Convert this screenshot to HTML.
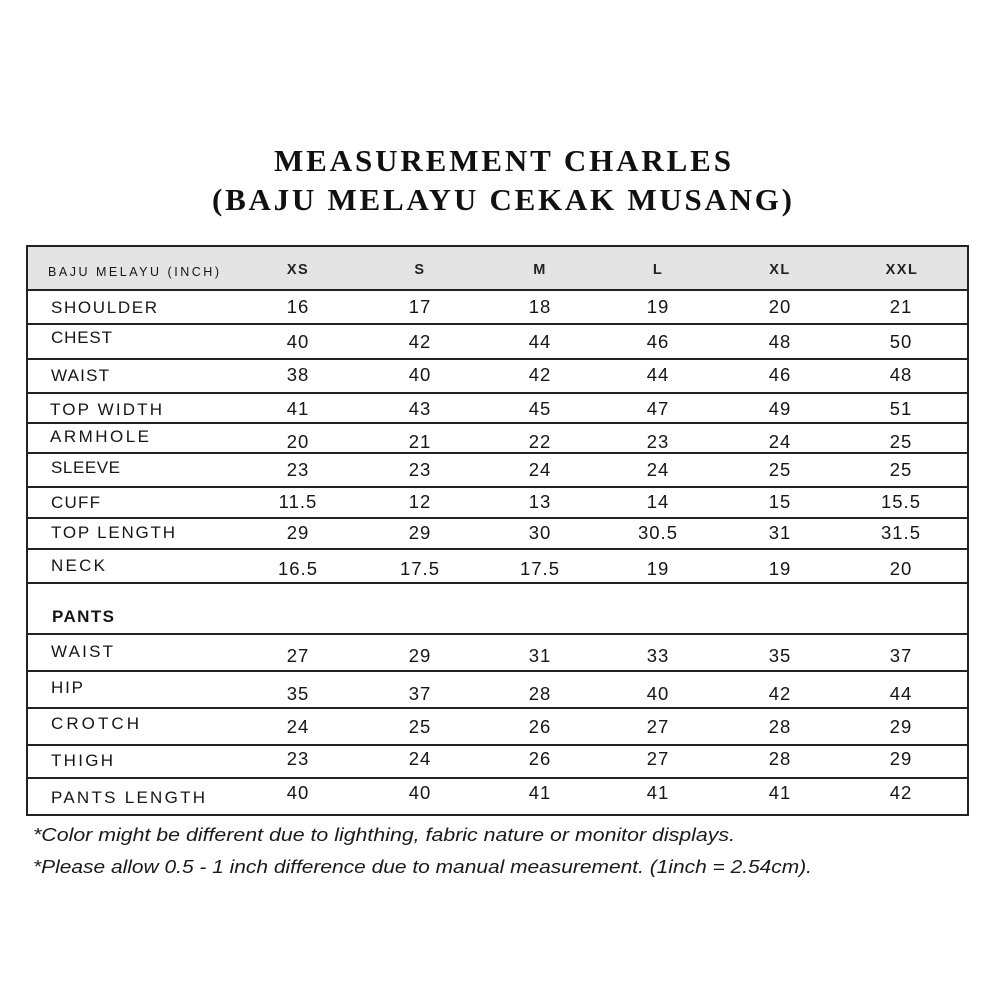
<!DOCTYPE html>
<html><head><meta charset="utf-8"><style>
html,body{margin:0;padding:0;background:#fff;}
svg{display:block;}
.t{font-family:"Liberation Serif",serif;font-weight:bold;font-size:31px;fill:#111;}
.lb{font-family:"Liberation Sans",sans-serif;font-size:17px;fill:#161616;}
.v{font-family:"Liberation Sans",sans-serif;font-size:18.5px;fill:#161616;letter-spacing:1px;}
.h{font-family:"Liberation Sans",sans-serif;font-size:14.5px;font-weight:bold;fill:#222;letter-spacing:1.5px;}
.fn{font-family:"Liberation Sans",sans-serif;font-style:italic;font-size:18px;fill:#1a1a1a;}
</style></head><body>
<svg width="1000" height="1000" viewBox="0 0 1000 1000" xmlns="http://www.w3.org/2000/svg">
<rect x="0" y="0" width="1000" height="1000" fill="#fff"/>
<text class="t" x="274" y="171" textLength="457" lengthAdjust="spacing">MEASUREMENT CHARLES</text>
<text class="t" x="212" y="210" textLength="580" lengthAdjust="spacing">(BAJU MELAYU CEKAK MUSANG)</text>

<rect x="27" y="246" width="941" height="43" fill="#e4e4e4"/>
<g stroke="#222" stroke-width="2" fill="none">
<rect x="27" y="246" width="941" height="569"/>
<line x1="27" y1="290" x2="968" y2="290"/>
<line x1="27" y1="324" x2="968" y2="324"/>
<line x1="27" y1="359" x2="968" y2="359"/>
<line x1="27" y1="393" x2="968" y2="393"/>
<line x1="27" y1="423" x2="968" y2="423"/>
<line x1="27" y1="453" x2="968" y2="453"/>
<line x1="27" y1="487" x2="968" y2="487"/>
<line x1="27" y1="518" x2="968" y2="518"/>
<line x1="27" y1="549" x2="968" y2="549"/>
<line x1="27" y1="583" x2="968" y2="583"/>
<line x1="27" y1="634" x2="968" y2="634"/>
<line x1="27" y1="671" x2="968" y2="671"/>
<line x1="27" y1="708" x2="968" y2="708"/>
<line x1="27" y1="745" x2="968" y2="745"/>
<line x1="27" y1="778" x2="968" y2="778"/>
</g>

<text class="lb" x="48" y="276" textLength="171" lengthAdjust="spacing" style="font-size:12.5px">BAJU MELAYU (INCH)</text>
<g class="h" text-anchor="middle">
<text x="298" y="274">XS</text><text x="420" y="274">S</text><text x="540" y="274">M</text>
<text x="658" y="274">L</text><text x="780" y="274">XL</text><text x="902" y="274">XXL</text>
</g>

<text class="lb" x="51" y="313" textLength="106" lengthAdjust="spacing">SHOULDER</text>
<text class="lb" x="51" y="343" textLength="61" lengthAdjust="spacing">CHEST</text>
<text class="lb" x="51" y="381" textLength="58" lengthAdjust="spacing">WAIST</text>
<text class="lb" x="50" y="415" textLength="112" lengthAdjust="spacing">TOP WIDTH</text>
<text class="lb" x="50" y="442" textLength="99" lengthAdjust="spacing">ARMHOLE</text>
<text class="lb" x="51" y="473" textLength="69" lengthAdjust="spacing">SLEEVE</text>
<text class="lb" x="51" y="508" textLength="49" lengthAdjust="spacing">CUFF</text>
<text class="lb" x="51" y="538" textLength="124" lengthAdjust="spacing">TOP LENGTH</text>
<text class="lb" x="51" y="571" textLength="54" lengthAdjust="spacing">NECK</text>
<text class="lb" x="52" y="622" textLength="62" lengthAdjust="spacing" style="font-weight:bold">PANTS</text>
<text class="lb" x="51" y="657" textLength="62" lengthAdjust="spacing">WAIST</text>
<text class="lb" x="51" y="693" textLength="32" lengthAdjust="spacing">HIP</text>
<text class="lb" x="51" y="729" textLength="88" lengthAdjust="spacing">CROTCH</text>
<text class="lb" x="51" y="766" textLength="62" lengthAdjust="spacing">THIGH</text>
<text class="lb" x="51" y="803" textLength="154" lengthAdjust="spacing">PANTS LENGTH</text>

<g class="v" text-anchor="middle">
<g transform="translate(0,313)"><text x="298">16</text><text x="420">17</text><text x="540">18</text><text x="658">19</text><text x="780">20</text><text x="901">21</text></g>
<g transform="translate(0,348)"><text x="298">40</text><text x="420">42</text><text x="540">44</text><text x="658">46</text><text x="780">48</text><text x="901">50</text></g>
<g transform="translate(0,381)"><text x="298">38</text><text x="420">40</text><text x="540">42</text><text x="658">44</text><text x="780">46</text><text x="901">48</text></g>
<g transform="translate(0,415)"><text x="298">41</text><text x="420">43</text><text x="540">45</text><text x="658">47</text><text x="780">49</text><text x="901">51</text></g>
<g transform="translate(0,448)"><text x="298">20</text><text x="420">21</text><text x="540">22</text><text x="658">23</text><text x="780">24</text><text x="901">25</text></g>
<g transform="translate(0,476)"><text x="298">23</text><text x="420">23</text><text x="540">24</text><text x="658">24</text><text x="780">25</text><text x="901">25</text></g>
<g transform="translate(0,508)"><text x="298">11.5</text><text x="420">12</text><text x="540">13</text><text x="658">14</text><text x="780">15</text><text x="901">15.5</text></g>
<g transform="translate(0,539)"><text x="298">29</text><text x="420">29</text><text x="540">30</text><text x="658">30.5</text><text x="780">31</text><text x="901">31.5</text></g>
<g transform="translate(0,575)"><text x="298">16.5</text><text x="420">17.5</text><text x="540">17.5</text><text x="658">19</text><text x="780">19</text><text x="901">20</text></g>
<g transform="translate(0,662)"><text x="298">27</text><text x="420">29</text><text x="540">31</text><text x="658">33</text><text x="780">35</text><text x="901">37</text></g>
<g transform="translate(0,700)"><text x="298">35</text><text x="420">37</text><text x="540">28</text><text x="658">40</text><text x="780">42</text><text x="901">44</text></g>
<g transform="translate(0,733)"><text x="298">24</text><text x="420">25</text><text x="540">26</text><text x="658">27</text><text x="780">28</text><text x="901">29</text></g>
<g transform="translate(0,765)"><text x="298">23</text><text x="420">24</text><text x="540">26</text><text x="658">27</text><text x="780">28</text><text x="901">29</text></g>
<g transform="translate(0,799)"><text x="298">40</text><text x="420">40</text><text x="540">41</text><text x="658">41</text><text x="780">41</text><text x="901">42</text></g>
</g>

<text class="fn" x="33" y="841" textLength="702" lengthAdjust="spacingAndGlyphs">*Color might be different due to lighthing, fabric nature or monitor displays.</text>
<text class="fn" x="33" y="873" textLength="779" lengthAdjust="spacingAndGlyphs">*Please allow 0.5 - 1 inch difference due to manual measurement. (1inch = 2.54cm).</text>
</svg>
</body></html>
